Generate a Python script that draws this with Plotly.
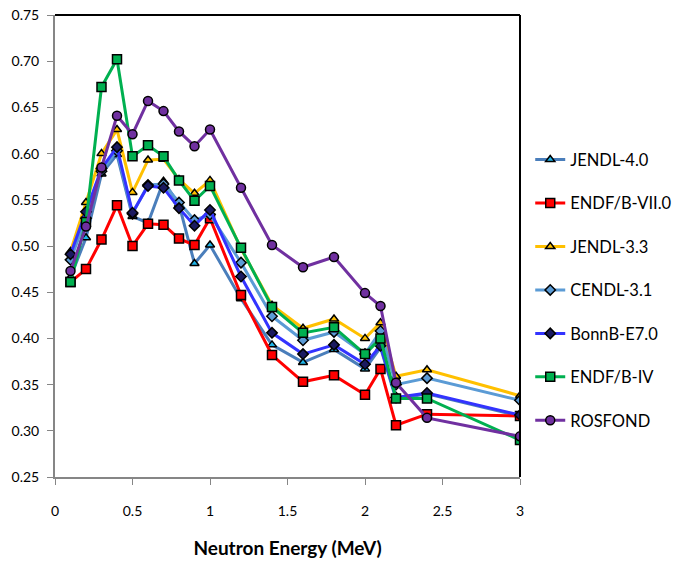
import plotly.graph_objects as go

energy = [0.1, 0.2, 0.3, 0.4, 0.5, 0.6, 0.7, 0.8, 0.9, 1.0, 1.2, 1.4, 1.6, 1.8, 2.0, 2.1, 2.2, 2.4, 3.0]

jendl40 = [0.466, 0.509, 0.578, 0.599, 0.532, 0.525, 0.570, 0.545, 0.481, 0.501, 0.443, 0.393, 0.374, 0.388, 0.367, 0.390, 0.334, 0.340, 0.316]
endfb70 = [0.461, 0.475, 0.507, 0.544, 0.500, 0.524, 0.523, 0.508, 0.501, 0.530, 0.447, 0.382, 0.353, 0.360, 0.339, 0.367, 0.306, 0.318, 0.316]
jendl33 = [0.494, 0.547, 0.600, 0.626, 0.558, 0.593, 0.594, 0.572, 0.557, 0.571, 0.497, 0.436, 0.411, 0.421, 0.400, 0.417, 0.359, 0.366, 0.338]
cendl31 = [0.485, 0.530, 0.581, 0.603, 0.535, 0.566, 0.567, 0.547, 0.528, 0.534, 0.482, 0.424, 0.398, 0.407, 0.383, 0.408, 0.350, 0.357, 0.333]
bonnb70 = [0.491, 0.537, 0.584, 0.607, 0.536, 0.565, 0.563, 0.541, 0.522, 0.539, 0.467, 0.406, 0.383, 0.393, 0.372, 0.392, 0.336, 0.341, 0.317]
endfb4 = [0.461, 0.526, 0.672, 0.702, 0.597, 0.609, 0.597, 0.571, 0.549, 0.565, 0.498, 0.434, 0.406, 0.412, 0.383, 0.400, 0.335, 0.335, 0.290]
rosfond = [0.473, 0.521, 0.585, 0.641, 0.621, 0.657, 0.646, 0.624, 0.608, 0.626, 0.563, 0.501, 0.477, 0.488, 0.449, 0.435, 0.352, 0.314, 0.294]

x_ticks = [0, 0.5, 1, 1.5, 2, 2.5, 3]
x_tick_labels = ["0", "0.5", "1", "1.5", "2", "2.5", "3"]
y_ticks = [0.25, 0.30, 0.35, 0.40, 0.45, 0.50, 0.55, 0.60, 0.65, 0.70, 0.75]
y_tick_labels = ["%.2f" % v for v in y_ticks]

series = [
    ("JENDL-4.0", jendl40, "#4A7EBB", "triangle-up", "#1FB4E8", 8),
    ("ENDF/B-VII.0", endfb70, "#FF0000", "square", "#FF0000", 9),
    ("JENDL-3.3", jendl33, "#FFC000", "triangle-up", "#FFC000", 8),
    ("CENDL-3.1", cendl31, "#5B9BD5", "diamond", "#5B9BD5", 8),
    ("BonnB-E7.0", bonnb70, "#3333FF", "diamond", "#1a1a60", 8),
    ("ENDF/B-IV", endfb4, "#00B050", "square", "#00B050", 9),
    ("ROSFOND", rosfond, "#7030A0", "circle", "#7030A0", 9),
]

FONT = "Lato, Roboto, Arial, sans-serif"

fig = go.Figure()
for i, (name, vals, lc, sym, mc, ms) in enumerate(series):
    fig.add_trace(go.Scatter(
        x=energy, y=vals, name=name, mode="lines+markers",
        legendgroup="g%d" % i,
        line=dict(color=lc, width=3),
        marker=dict(symbol=sym, size=ms, color=mc, line=dict(color="#000000", width=1.5)),
    ))

fig.update_layout(
    width=677, height=561,
    margin=dict(l=55, r=157, t=15, b=84, autoexpand=False),
    paper_bgcolor="white", plot_bgcolor="white",
    font=dict(family=FONT, size=14, color="#000000"),
    showlegend=True,
    legend=dict(
        x=1.022, xanchor="left", y=0.404, yanchor="middle",
        font=dict(family=FONT, size=16.5, color="#000000"),
        tracegroupgap=19, itemwidth=30,
        bgcolor="rgba(0,0,0,0)",
    ),
    xaxis=dict(
        range=[0, 3], tickmode="array", tickvals=x_ticks, ticktext=x_tick_labels,
        showgrid=False, zeroline=False, showline=True, linecolor="#868686", linewidth=2,
        ticks="outside", ticklen=6, tickcolor="#868686", tickwidth=1,
        tickfont=dict(size=14), ticklabelstandoff=14,
        title=dict(text="<b>Neutron Energy (MeV)</b>", font=dict(size=19), standoff=24),
    ),
    yaxis=dict(
        range=[0.25, 0.75], tickmode="array", tickvals=y_ticks, ticktext=y_tick_labels,
        showgrid=False, zeroline=False, showline=True, linecolor="#868686", linewidth=2,
        ticks="outside", ticklen=6, tickcolor="#868686", tickwidth=1,
        tickfont=dict(size=14), ticklabelstandoff=5,
    ),
)

# plot-area border (top and right) in black
fig.add_shape(type="line", xref="paper", yref="paper", x0=0, x1=1, y0=1, y1=1,
              line=dict(color="#000000", width=2))
fig.add_shape(type="line", xref="paper", yref="paper", x0=1, x1=1, y0=0, y1=1,
              line=dict(color="#000000", width=2))

fig.write_html("out.html")
